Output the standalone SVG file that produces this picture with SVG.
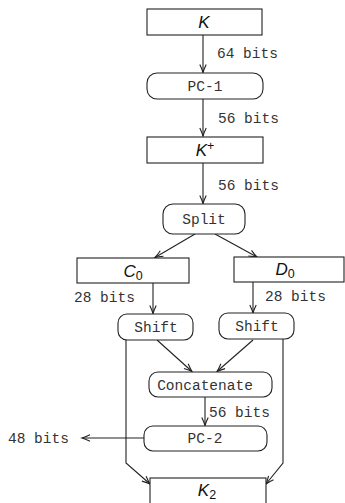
<svg xmlns="http://www.w3.org/2000/svg" width="345" height="503" viewBox="0 0 345 503">
<style>
.box{fill:#fff;stroke:#222;stroke-width:1.1}
.mono{font-family:"Liberation Mono","DejaVu Sans Mono",monospace;font-size:14.5px;fill:#333}
.it{font-family:"Liberation Sans","DejaVu Sans",sans-serif;font-style:italic;font-size:17px;fill:#111}
.sub{font-family:"Liberation Sans","DejaVu Sans",sans-serif;font-style:normal;font-size:12.5px}
.ln{fill:none;stroke:#222;stroke-width:1.1}
</style>
<defs>
<marker id="ah" markerUnits="userSpaceOnUse" markerWidth="12" markerHeight="10" viewBox="-9 -5 10 10" refX="0" refY="0" orient="auto">
<path d="M-8,-3.2 Q-3,-0.8 0,0 Q-3,0.8 -8,3.2" fill="none" stroke="#222" stroke-width="1.1"/>
</marker>
</defs>
<g id="connectors">
<line class="ln" x1="203" y1="35" x2="203" y2="72.5" marker-end="url(#ah)"/>
<line class="ln" x1="203" y1="99" x2="203" y2="136" marker-end="url(#ah)"/>
<line class="ln" x1="203" y1="163" x2="203" y2="203.5" marker-end="url(#ah)"/>
<line class="ln" x1="195" y1="234" x2="155" y2="257.5" marker-end="url(#ah)"/>
<line class="ln" x1="215" y1="234" x2="257" y2="257" marker-end="url(#ah)"/>
<line class="ln" x1="153" y1="283" x2="153" y2="313.5" marker-end="url(#ah)"/>
<line class="ln" x1="253" y1="282" x2="253" y2="313" marker-end="url(#ah)"/>
<line class="ln" x1="157" y1="340" x2="192" y2="371.5" marker-end="url(#ah)"/>
<line class="ln" x1="253" y1="340" x2="217" y2="371.5" marker-end="url(#ah)"/>
<line class="ln" x1="205" y1="397" x2="205" y2="425.5" marker-end="url(#ah)"/>
<line class="ln" x1="144" y1="438" x2="82" y2="438" marker-end="url(#ah)"/>
<polyline class="ln" points="126,340 126,463 150,484" marker-end="url(#ah)"/>
<polyline class="ln" points="283,339 283,463 266,484" marker-end="url(#ah)"/>
</g>
<g id="label-64"><text class="mono" x="217" y="57.5">64 bits</text></g>
<g id="label-56a"><text class="mono" x="218" y="122.5">56 bits</text></g>
<g id="label-56b"><text class="mono" x="218" y="189.5">56 bits</text></g>
<g id="label-28a"><text class="mono" x="74" y="301.5">28 bits</text></g>
<g id="label-28b"><text class="mono" x="265" y="300.5">28 bits</text></g>
<g id="label-56c"><text class="mono" x="209" y="416.5">56 bits</text></g>
<g id="label-48"><text class="mono" x="8" y="442.5">48 bits</text></g>
<g id="node-K">
<rect class="box" x="147" y="9" width="115" height="26"/>
<text class="it" x="204" y="28" text-anchor="middle">K</text>
</g>
<g id="node-PC1">
<rect class="box" x="147" y="73" width="116" height="26" rx="10"/>
<text class="mono" x="205" y="91" text-anchor="middle">PC-1</text>
</g>
<g id="node-Kplus">
<rect class="box" x="147" y="137" width="116" height="26"/>
<text class="it" x="205" y="156" text-anchor="middle">K<tspan class="sub" dy="-6">+</tspan></text>
</g>
<g id="node-Split">
<rect class="box" x="163" y="204" width="82" height="30" rx="10"/>
<text class="mono" x="204" y="224" text-anchor="middle">Split</text>
</g>
<g id="node-C0">
<rect class="box" x="77" y="258" width="112" height="25"/>
<text class="it" x="133" y="277" text-anchor="middle">C<tspan class="sub" dy="3">0</tspan></text>
</g>
<g id="node-D0">
<rect class="box" x="234" y="257" width="110" height="25"/>
<text class="it" x="285" y="275" text-anchor="middle">D<tspan class="sub" dy="3">0</tspan></text>
</g>
<g id="node-ShiftL">
<rect class="box" x="118" y="314" width="75" height="26" rx="9"/>
<text class="mono" x="156" y="332" text-anchor="middle">Shift</text>
</g>
<g id="node-ShiftR">
<rect class="box" x="219" y="313" width="75" height="26" rx="9"/>
<text class="mono" x="257" y="331" text-anchor="middle">Shift</text>
</g>
<g id="node-Concat">
<rect class="box" x="149" y="372" width="123" height="25" rx="9"/>
<text class="mono" x="205" y="390" text-anchor="middle">Concatenate</text>
</g>
<g id="node-PC2">
<rect class="box" x="144" y="426" width="123" height="25" rx="9"/>
<text class="mono" x="205" y="443" text-anchor="middle">PC-2</text>
</g>
<g id="node-K2">
<rect class="box" x="150" y="478" width="116" height="30"/>
<text class="it" x="207" y="496" text-anchor="middle">K<tspan class="sub" dy="2.5">2</tspan></text>
</g>
</svg>
